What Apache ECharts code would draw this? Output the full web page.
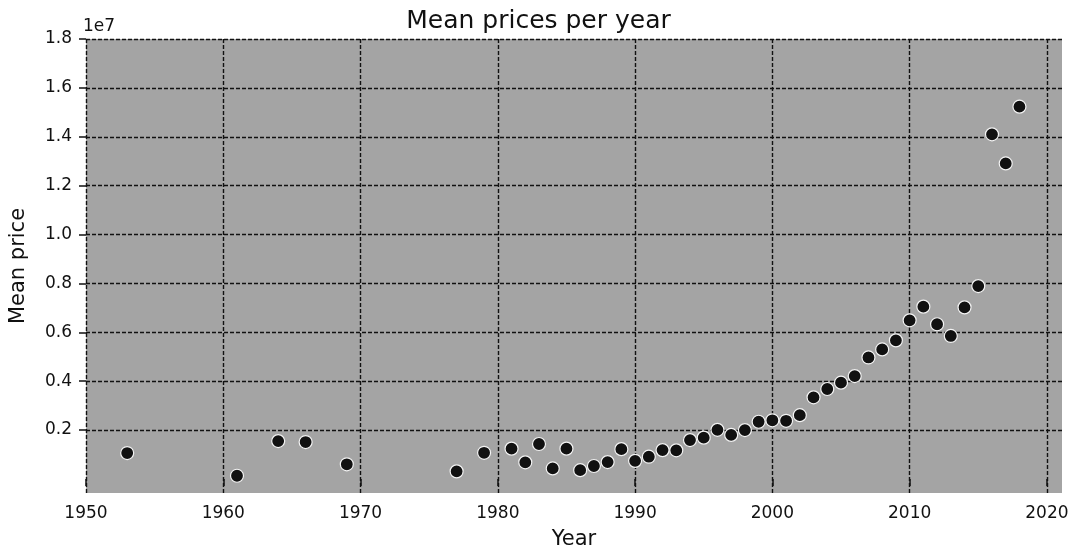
<!DOCTYPE html>
<html>
<head>
<meta charset="utf-8">
<script src="https://cdn.jsdelivr.net/npm/echarts@6/dist/echarts.min.js"></script>
<style>html,body{margin:0;padding:0;background:#fff}#c{width:1077px;height:556px}</style>
</head>
<body>
<div id="c"></div>
<script>
const years = [1953, 1961, 1964, 1966, 1969, 1977, 1979,
  1981, 1982, 1983, 1984, 1985, 1986, 1987, 1988, 1989, 1990,
  1991, 1992, 1993, 1994, 1995, 1996, 1997, 1998, 1999, 2000,
  2001, 2002, 2003, 2004, 2005, 2006, 2007, 2008, 2009, 2010,
  2011, 2012, 2013, 2014, 2015, 2016, 2017, 2018];
const meanPrices = [1060000, 130000, 1550000, 1510000, 600000, 310000, 1070000,
  1240000, 680000, 1430000, 430000, 1240000, 360000, 530000, 690000, 1220000, 740000,
  910000, 1180000, 1170000, 1590000, 1690000, 2010000, 1800000, 2000000, 2340000, 2400000,
  2380000, 2610000, 3340000, 3680000, 3940000, 4210000, 4970000, 5300000, 5670000, 6490000,
  7050000, 6330000, 5850000, 7020000, 7890000, 14100000, 12910000, 15230000];
const xTicks = [1950, 1960, 1970, 1980, 1990, 2000, 2010, 2020];
const yTicks = [2000000, 4000000, 6000000, 8000000, 10000000, 12000000, 14000000, 16000000, 18000000];

const chart = echarts.init(document.getElementById('c'), null, {renderer: 'canvas'});
const font = 'DejaVu Sans';
chart.setOption({
  animation: false,
  title: {
    text: 'Mean prices per year', left: 'center', top: 4,
    textStyle: {fontFamily: font, fontSize: 25, fontWeight: 'normal', color: '#111'}
  },
  graphic: [{
    type: 'text', left: 83, top: 18,
    style: {text: '1e7', fontFamily: font, fontSize: 17, fill: '#111'}
  }],
  grid: {
    left: 83, right: 15, top: 39, bottom: 63,
    show: true, backgroundColor: '#a4a4a4', borderWidth: 0
  },
  xAxis: {
    type: 'value', min: 1950, max: 2021.1,
    name: 'Year', nameLocation: 'middle', nameGap: 36,
    nameTextStyle: {fontFamily: font, fontSize: 21, color: '#111'},
    axisLine: {show: false},
    axisTick: {show: true, length: 7, customValues: xTicks, lineStyle: {color: '#111', width: 1.5}},
    axisLabel: {customValues: xTicks, margin: 12, fontFamily: font, fontSize: 17, color: '#111',
      formatter: v => String(Math.round(v))},
    splitLine: {show: true, lineStyle: {color: '#111', width: 1.4, type: [4, 2]}}
  },
  yAxis: {
    type: 'value', min: -575000, max: 18000000,
    name: 'Mean price', nameLocation: 'middle', nameGap: 57,
    nameTextStyle: {fontFamily: font, fontSize: 21, color: '#111'},
    axisLine: {show: false},
    axisTick: {show: true, length: 7, customValues: yTicks, lineStyle: {color: '#111', width: 1.5}},
    axisLabel: {customValues: yTicks, margin: 14, fontFamily: font, fontSize: 17, color: '#111',
      formatter: v => (v / 1e7).toFixed(1)},
    splitLine: {show: true, lineStyle: {color: '#111', width: 1.4, type: [4, 2]}}
  },
  series: [{
    type: 'scatter',
    data: years.map((y, i) => [y, meanPrices[i]]),
    symbolSize: 13,
    itemStyle: {color: '#111', borderColor: '#f4f4f4', borderWidth: 1.2, opacity: 1}
  }]
});
</script>
</body>
</html>
